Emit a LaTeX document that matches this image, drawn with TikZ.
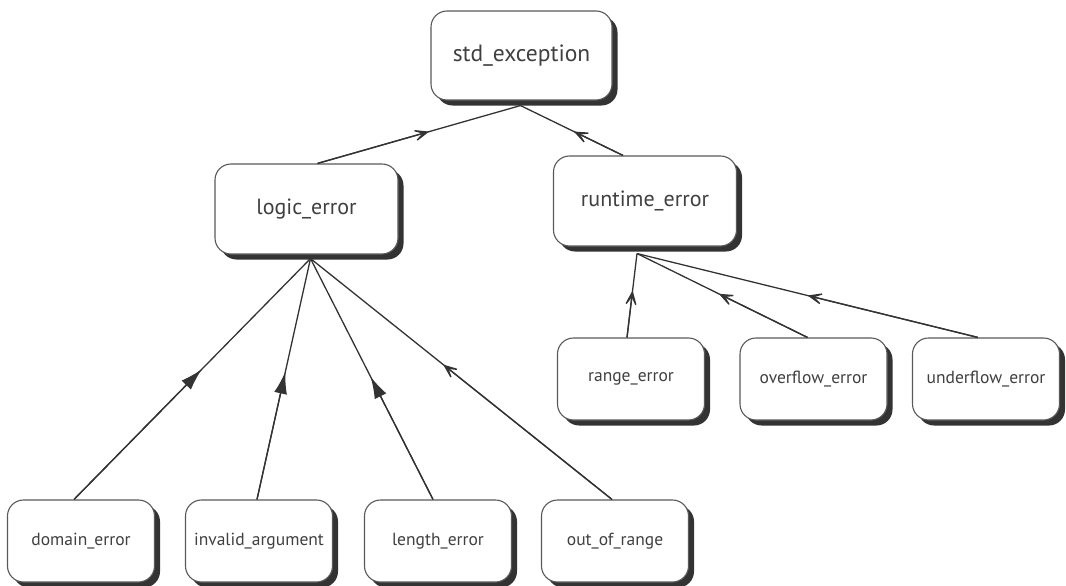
\documentclass[tikz,border=0pt]{standalone}
\usepackage{fontspec}
\setmainfont{PT Sans}
\usetikzlibrary{shadows,arrows.meta,calc}

% inheritance line from #1 (derived) to #2 (base), head #3 placed at fraction #4
\newcommand\derivesfrom[4]{%
  \draw[link] (#1) -- (#2);
  \draw[link,-{#3}] (#1) -- ($(#1)!#4!(#2)$);}

\begin{document}
\begin{tikzpicture}[x=1pt,y=-1pt,
  box/.style={draw=black!65, line width=1.1pt, fill=white, rounded corners=16pt,
    align=center, text=black!75, inner sep=0pt,
    drop shadow={shadow xshift=5.5pt, shadow yshift=-5.5pt, fill=black!80, opacity=1}},
  topbox/.style={box, minimum width=181pt, minimum height=89pt, font=\fontsize{23.5}{26}\selectfont},
  midbox/.style={box, minimum width=183pt, minimum height=90pt, font=\fontsize{22}{25}\selectfont},
  leafbox/.style={box, minimum width=147pt, minimum height=82pt, font=\fontsize{17.5}{20}\selectfont},
  link/.style={draw=black!80, line width=1.3pt},
]
\def\barbhead{Stealth[length=21pt,width=17pt,inset=14pt]}
\def\solidhead{Latex[length=22pt,width=13pt]}
\useasboundingbox (0,0) rectangle (1066,586);

% class nodes
\node[topbox]  (std)     at (521.5,55.5) {std\_exception};
\node[midbox]  (logic)   at (306.5,209)  {logic\_error};
\node[midbox]  (runtime) at (645,201)    {runtime\_error};

\node[leafbox] (domain)  at (81,541)   {domain\_error};
\node[leafbox] (invalid) at (259,541)  {invalid\_argument};
\node[leafbox] (length)  at (438,541)  {length\_error};
\node[leafbox] (outof)   at (615,541)  {out\_of\_range};

\node[leafbox] (range)     at (631,379)   {range\_error};
\node[leafbox] (overflow)  at (813.5,379) {overflow\_error};
\node[leafbox] (underflow) at (986,379)   {underflow\_error};

% meeting points below the base classes
\coordinate (stdfoot)     at ($(std.south)+(-1,5)$);
\coordinate (logicfoot)   at ($(logic.south)+(4,4)$);
\coordinate (runtimefoot) at ($(runtime.south)+(-8,7)$);

% attachment points on the derived classes
\coordinate (logictop)     at ($(logic.north)+(11,0)$);
\coordinate (runtimetop)   at ($(runtime.north)+(-22,0)$);
\coordinate (domaintop)    at ($(domain.north)+(-7,0)$);
\coordinate (invalidtop)   at ($(invalid.north)+(-2,0)$);
\coordinate (lengthtop)    at ($(length.north)+(-5,0)$);
\coordinate (outoftop)     at ($(outof.north)+(-3,0)$);
\coordinate (rangetop)     at ($(range.north)+(-4,0)$);
\coordinate (overflowtop)  at ($(overflow.north)+(-6,0)$);
\coordinate (underflowtop) at ($(underflow.north)+(-8,0)$);

% inheritance lines
\derivesfrom{logictop}{stdfoot}{\barbhead}{0.55}
\derivesfrom{runtimetop}{stdfoot}{\barbhead}{0.48}

\derivesfrom{domaintop}{logicfoot}{\solidhead}{0.54}
\derivesfrom{invalidtop}{logicfoot}{\solidhead}{0.53}
\derivesfrom{lengthtop}{logicfoot}{\solidhead}{0.51}
\derivesfrom{outoftop}{logicfoot}{\barbhead}{0.56}

\derivesfrom{rangetop}{runtimefoot}{\barbhead}{0.56}
\derivesfrom{overflowtop}{runtimefoot}{\barbhead}{0.52}
\derivesfrom{underflowtop}{runtimefoot}{\barbhead}{0.50}
\end{tikzpicture}
\end{document}
